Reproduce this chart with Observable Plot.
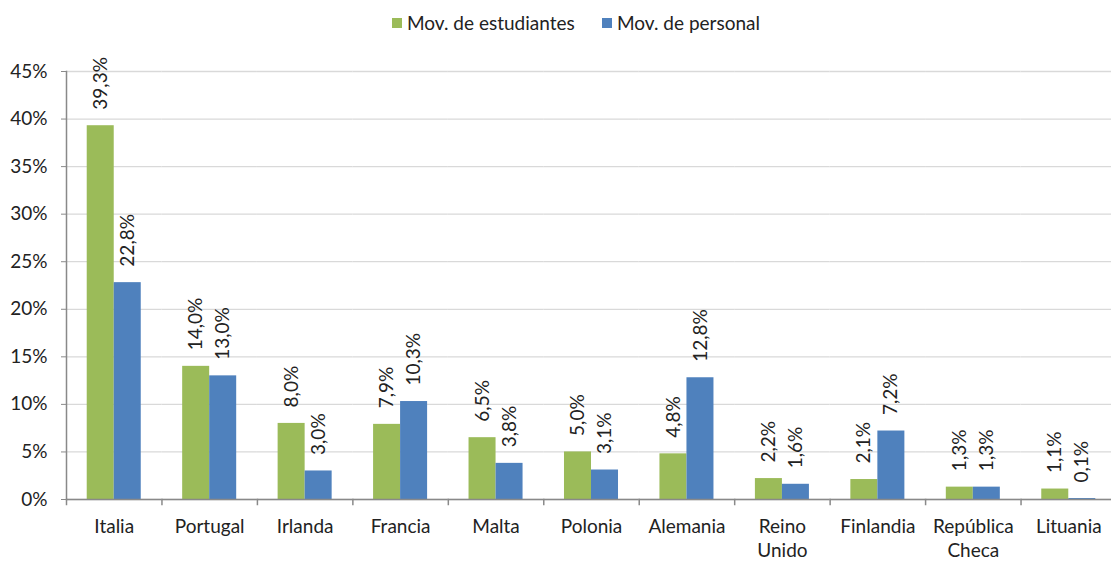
<!DOCTYPE html>
<html>
<head>
<meta charset="utf-8">
<script src="https://cdn.jsdelivr.net/npm/d3@7"></script>
<script src="https://cdn.jsdelivr.net/npm/@observablehq/plot@0.6"></script>
<style>
  html, body { margin: 0; padding: 0; background: #fff; overflow: hidden; }
  body { font-family: Lato, "Open Sans", sans-serif; color: #222; width: 1111px; }
  #legend { position: relative; height: 40px; font-size: 19px; }
  .item { position: absolute; top: 10px; display: flex; align-items: center; height: 25px; white-space: nowrap; }
  .sw { width: 10px; height: 10px; margin-right: 5px; }
  #chart svg { display: block; }
</style>
</head>
<body>
<div id="legend"></div>
<div id="chart"></div>
<script>
const countries = ["Italia", "Portugal", "Irlanda", "Francia", "Malta", "Polonia", "Alemania", "Reino Unido", "Finlandia", "República Checa", "Lituania"];
const xLabels = ["Italia", "Portugal", "Irlanda", "Francia", "Malta", "Polonia", "Alemania", "Reino\nUnido", "Finlandia", "República\nCheca", "Lituania"];
const seriesNames = ["Mov. de estudiantes", "Mov. de personal"];
const estudiantes = [39.3, 14.0, 8.0, 7.9, 6.5, 5.0, 4.8, 2.2, 2.1, 1.3, 1.1];
const personal = [22.8, 13.0, 3.0, 10.3, 3.8, 3.1, 12.8, 1.6, 7.2, 1.3, 0.1];
const yTicks = [0, 5, 10, 15, 20, 25, 30, 35, 40, 45];
const colors = ["#9BBB59", "#4F81BD"];

const data = countries.flatMap((c, i) => [
  {country: c, series: seriesNames[0], value: estudiantes[i]},
  {country: c, series: seriesNames[1], value: personal[i]}
]);

// Legend
const legend = document.getElementById("legend");
const legendLeft = [392, 602];
seriesNames.forEach((s, i) => {
  const it = document.createElement("div");
  it.className = "item";
  it.style.left = legendLeft[i] + "px";
  it.innerHTML = `<span class="sw" style="background:${colors[i]}"></span><span>${s}</span>`;
  legend.appendChild(it);
});

const fmt = v => v.toFixed(1).replace(".", ",") + "%";
const axisColor = "#898989";

const chart = Plot.plot({
  width: 1111,
  height: 523,
  marginTop: 31,
  marginBottom: 64,
  marginLeft: 66,
  marginRight: -5,
  style: {fontFamily: "Lato, 'Open Sans', sans-serif", fontSize: "19px", color: "#222", background: "#fff"},
  fx: {domain: countries, padding: 0, round: false, label: null},
  x: {domain: seriesNames, paddingInner: 0, paddingOuter: 0.767, round: false, axis: null},
  y: {domain: [0, 45], label: null},
  color: {domain: seriesNames, range: colors},
  marks: [
    Plot.gridY(yTicks, {stroke: "#d9d9d9", strokeOpacity: 1, strokeWidth: 1.3}),
    Plot.barY(data, {fx: "country", x: "series", y: "value", fill: "series"}),
    Plot.ruleY([0], {stroke: axisColor, strokeWidth: 1.5}),
    Plot.frame({anchor: "left", facetAnchor: "left", stroke: axisColor, strokeWidth: 1.5}),
    Plot.frame({anchor: "left", insetTop: 428, insetBottom: -5, stroke: axisColor, strokeWidth: 1.5}),
    Plot.axisY(yTicks, {tickSize: 5, tickPadding: 14, tickFormat: d => d + "%", stroke: axisColor, fill: "#222", label: null}),
    Plot.axisFx({anchor: "bottom", tickSize: 0, tickPadding: 16, tickFormat: d => xLabels[countries.indexOf(d)], lineHeight: 1.28, label: null, fill: "#222"}),
    Plot.text(data, {fx: "country", x: "series", y: "value", text: d => fmt(d.value), rotate: -90, textAnchor: "start", lineAnchor: "middle", dy: -16, fill: "#222"})
  ]
});
document.getElementById("chart").appendChild(chart);
</script>
</body>
</html>
